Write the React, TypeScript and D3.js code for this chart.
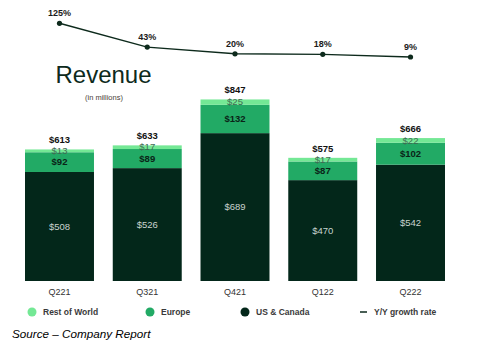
import React from "react";
import * as d3 from "d3";

const quarters = ["Q221", "Q321", "Q421", "Q122", "Q222"];
const usCanada = [508, 526, 689, 470, 542];
const europe = [92, 89, 132, 87, 102];
const restOfWorld = [13, 17, 25, 17, 22];
const totals = [613, 633, 847, 575, 666];
const growth = [125, 43, 20, 18, 9];
const growthLabels = ["125%", "43%", "20%", "18%", "9%"];
const legendItems = ["Rest of World", "Europe", "US & Canada", "Y/Y growth rate"];

const W = 485;
const H = 362;
const C_US = "#03271a";
const C_EU = "#22aa65";
const C_ROW = "#74e895";
const FONT = "'Liberation Sans', Arial, sans-serif";

export default function App() {
  const x = d3.scaleBand<string>().domain(quarters).range([25, 445]).paddingInner(0.214).paddingOuter(0);
  const y = d3.scaleLinear().domain([0, 1000]).range([281, 66.4]);
  const yg = d3.scaleLinear().domain([0, 125]).range([59.6, 23.3]);
  const bw = x.bandwidth();

  const stack = quarters.map((q, i) => {
    const s = [
      { key: "us", v0: 0, v1: usCanada[i], color: C_US },
      { key: "eu", v0: usCanada[i], v1: usCanada[i] + europe[i], color: C_EU },
      { key: "row", v0: usCanada[i] + europe[i], v1: usCanada[i] + europe[i] + restOfWorld[i], color: C_ROW },
    ];
    return s;
  });

  const line = d3
    .line<number>()
    .x((_, i) => (x(quarters[i]) as number) + bw / 2)
    .y((d) => yg(d));

  const legendX = [32, 150, 245, 360];

  return (
    <svg width={W} height={H} style={{ position: "absolute", left: 0, top: 0, background: "#fff" }} fontFamily={FONT}>
      <rect width={W} height={H} fill="#fff" />
      {/* growth line */}
      <path d={line(growth) || ""} fill="none" stroke="#0d2a1c" strokeWidth={1.4} />
      {growth.map((g, i) => {
        const cx = (x(quarters[i]) as number) + bw / 2;
        return (
          <g key={"g" + i}>
            <circle cx={cx} cy={yg(g)} r={2.6} fill="#0d2a1c" />
            <text x={cx} y={yg(g) - 7} textAnchor="middle" fontSize={9} fontWeight="bold" fill="#1b1b1b">
              {growthLabels[i]}
            </text>
          </g>
        );
      })}
      {/* title */}
      <text x={103.5} y={83} textAnchor="middle" fontSize={24} fill="#0d2a1c">
        Revenue
      </text>
      <text x={104} y={100} textAnchor="middle" fontSize={7.5} fill="#4a4038">
        (in millions)
      </text>
      {/* bars */}
      {quarters.map((q, i) => {
        const bx = x(q) as number;
        const cx = bx + bw / 2;
        const s = stack[i];
        return (
          <g key={q}>
            {s.map((seg) => (
              <rect key={seg.key} x={bx} y={y(seg.v1)} width={bw} height={y(seg.v0) - y(seg.v1)} fill={seg.color} />
            ))}
            <text x={cx} y={(y(s[0].v0) + y(s[0].v1)) / 2 + 3.3} textAnchor="middle" fontSize={9.5} fill="#c9d3ce">
              ${usCanada[i]}
            </text>
            <text x={cx} y={(y(s[1].v0) + y(s[1].v1)) / 2 + 3.3} textAnchor="middle" fontSize={9.5} fontWeight="bold" fill="#0a2418">
              ${europe[i]}
            </text>
            <text x={cx} y={(y(s[2].v0) + y(s[2].v1)) / 2 + 3.3} textAnchor="middle" fontSize={9.5} fill="#3f6b52">
              ${restOfWorld[i]}
            </text>
            <text x={cx} y={y(totals[i]) - 6} textAnchor="middle" fontSize={9.5} fontWeight="bold" fill="#111">
              ${totals[i]}
            </text>
            <text x={cx} y={295} textAnchor="middle" fontSize={9} fill="#333">
              {q}
            </text>
          </g>
        );
      })}
      {/* legend */}
      <circle cx={legendX[0]} cy={312} r={4.5} fill={C_ROW} />
      <circle cx={legendX[1]} cy={312} r={4.5} fill={C_EU} />
      <circle cx={legendX[2]} cy={312} r={4.5} fill={C_US} />
      <line x1={legendX[3]} x2={legendX[3] + 7} y1={312} y2={312} stroke="#0d2a1c" strokeWidth={1.5} />
      {legendItems.map((t, i) => (
        <text key={t} x={[43, 161, 256, 374][i]} y={315} fontSize={8.5} fontWeight="bold" fill="#3a3a3a">
          {t}
        </text>
      ))}
      <text x={12} y={338} fontSize={11.7} fontStyle="italic" fill="#000">
        Source – Company Report
      </text>
    </svg>
  );
}
